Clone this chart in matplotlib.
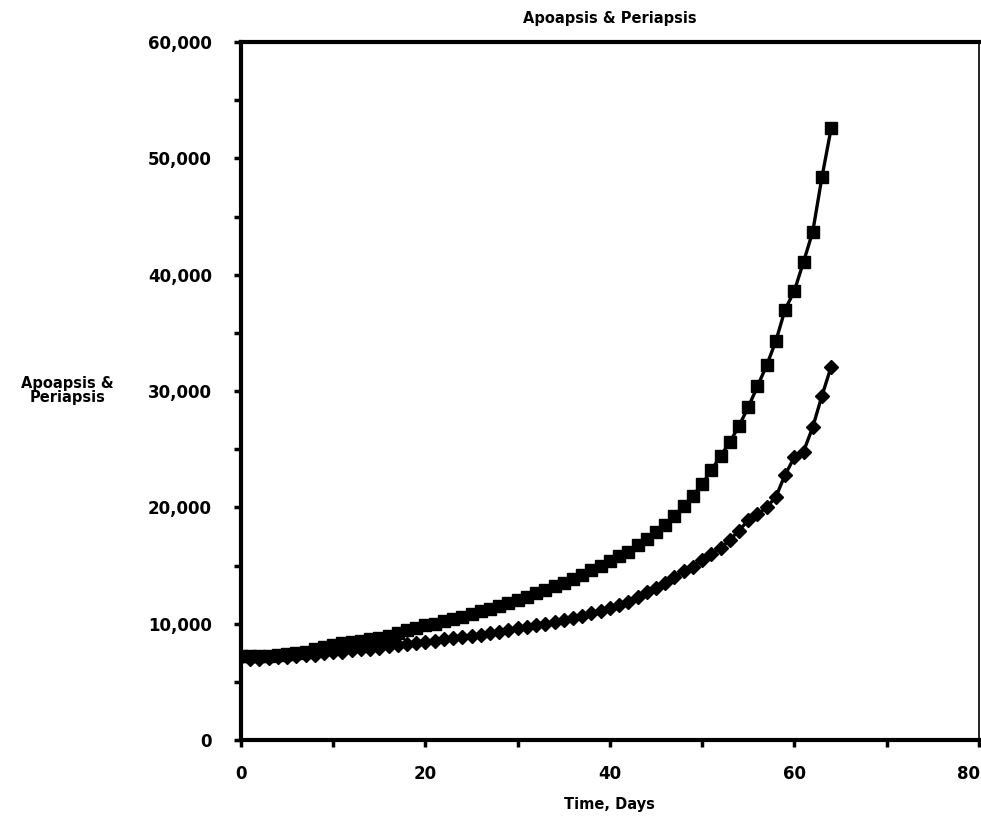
import numpy as np
import matplotlib
matplotlib.use("Agg")
import matplotlib.pyplot as plt
from matplotlib.ticker import MultipleLocator, FuncFormatter

# days since start
days = list(range(0, 65))

# apoapsis, thousands of units
apoapsis = [7.2, 7.2, 7.2, 7.25, 7.3, 7.4, 7.5, 7.6, 7.8, 8.0,
            8.2, 8.35, 8.45, 8.55, 8.65, 8.8, 8.95, 9.2, 9.45, 9.65,
            9.85, 10.0, 10.2, 10.4, 10.6, 10.85, 11.1, 11.3, 11.55, 11.8,
            12.05, 12.3, 12.6, 12.9, 13.2, 13.5, 13.8, 14.2, 14.6, 15.0,
            15.4, 15.8, 16.2, 16.8, 17.3, 17.9, 18.5, 19.3, 20.1, 21.0,
            22.0, 23.2, 24.4, 25.6, 27.0, 28.6, 30.4, 32.2, 34.3, 37.0,
            38.6, 41.1, 43.7, 48.4, 52.6]

# periapsis, thousands of units
periapsis = [7.1, 7.0, 7.0, 7.05, 7.1, 7.15, 7.2, 7.3, 7.35, 7.45,
             7.55, 7.6, 7.7, 7.8, 7.85, 7.95, 8.05, 8.15, 8.25, 8.35,
             8.45, 8.55, 8.65, 8.75, 8.85, 8.95, 9.05, 9.2, 9.3, 9.45,
             9.6, 9.7, 9.85, 10.0, 10.15, 10.3, 10.5, 10.7, 10.9, 11.1,
             11.35, 11.6, 11.9, 12.3, 12.7, 13.1, 13.5, 14.0, 14.5, 14.9,
             15.5, 16.0, 16.5, 17.2, 18.0, 18.9, 19.4, 20.0, 20.9, 22.8,
             24.3, 24.8, 26.9, 29.6, 32.1]

x_ticks = [0, 20, 40, 60, 80]
x_tick_labels = ['0', '20', '40', '60', '80']

apo = np.array(apoapsis) * 1000
peri = np.array(periapsis) * 1000

plt.rcParams['font.family'] = ['DejaVu Sans']
plt.rcParams['font.weight'] = 'bold'

fig = plt.figure(figsize=(9.81, 8.17), dpi=100)
ax = fig.add_axes([0.2457, 0.0942, 0.752, 0.8544])

ax.plot(days, apo, color='black', lw=2.4, marker='s', ms=8.5,
        markeredgecolor='black', markerfacecolor='black')
ax.plot(days, peri, color='black', lw=2.4, marker='D', ms=7.5,
        markeredgecolor='black', markerfacecolor='black')

ax.set_xlim(0, 80)
ax.set_ylim(0, 60000)

# the last label is drawn separately so it stays inside the figure
ax.set_xticks(x_ticks, x_tick_labels[:-1] + [''])
ax.xaxis.set_minor_locator(MultipleLocator(10))
ax.yaxis.set_major_locator(MultipleLocator(10000))
ax.yaxis.set_minor_locator(MultipleLocator(5000))
ax.yaxis.set_major_formatter(FuncFormatter(lambda v, p: '{:,.0f}'.format(v)))

ax.tick_params(axis='both', which='both', direction='out', width=2.5,
               length=5, labelsize=12)
ax.tick_params(axis='y', which='major', pad=16)
ax.tick_params(axis='x', which='major', pad=13)
ax.tick_params(top=False, right=False)

ax.annotate(x_tick_labels[-1], xy=(x_ticks[-1], 0), xycoords='data',
            xytext=(1, -18), textcoords='offset points',
            ha='right', va='top', fontsize=12, fontweight='bold',
            annotation_clip=False)

for side in ['left', 'bottom', 'top']:
    ax.spines[side].set_linewidth(3)
ax.spines['right'].set_linewidth(1.2)

ax.set_title('Apoapsis & Periapsis', fontsize=10.5, fontweight='bold', pad=14)
ax.set_xlabel('Time, Days', fontsize=10.5, fontweight='bold', labelpad=10)
fig.text(0.069, 0.522, 'Apoapsis &\nPeriapsis', fontsize=10.5,
         fontweight='bold', ha='center', va='center', linespacing=0.9)

fig.savefig('out.png', dpi=100)
